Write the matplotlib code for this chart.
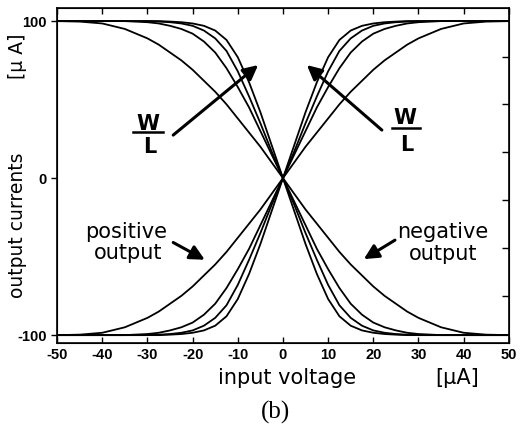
import numpy as np
import matplotlib
matplotlib.use('Agg')
import matplotlib.pyplot as plt

# input voltage grid and read-off output currents (four W/L values)
x = [-50, -45, -40, -35, -30, -27.5, -25, -22.5, -20, -17.5, -15, -12.5, -10, -7.5, -5, -2.5, 0,
     2.5, 5, 7.5, 10, 12.5, 15, 17.5, 20, 22.5, 25, 27.5, 30, 35, 40, 45, 50]

pos_a = [-100, -99.7, -98.5, -95, -89, -85, -80, -75, -69, -62, -55, -47, -38, -29, -20, -10, 0,
         10, 20, 29, 38, 47, 55, 62, 69, 75, 80, 85, 89, 95, 98.5, 99.7, 100]
pos_b = [-100, -100, -100, -100, -99.3, -98.5, -97, -95, -92, -87, -80, -70, -58, -45, -30, -15, 0,
         15, 30, 45, 58, 70, 80, 87, 92, 95, 97, 98.5, 99.3, 100, 100, 100, 100]
pos_c = [-100, -100, -100, -100, -100, -99.7, -99.3, -98.5, -97, -94, -89, -81, -68, -52, -35, -17, 0,
         17, 35, 52, 68, 81, 89, 94, 97, 98.5, 99.3, 99.7, 100, 100, 100, 100, 100]
pos_d = [-100, -100, -100, -100, -100, -100, -99.7, -99.3, -98.5, -97, -94, -88, -77, -61, -42, -21, 0,
         21, 42, 61, 77, 88, 94, 97, 98.5, 99.3, 99.7, 100, 100, 100, 100, 100, 100]

neg_a = [100, 99.7, 98.5, 95, 89, 85, 80, 75, 69, 62, 55, 47, 38, 29, 20, 10, 0,
         -10, -20, -29, -38, -47, -55, -62, -69, -75, -80, -85, -89, -95, -98.5, -99.7, -100]
neg_b = [100, 100, 100, 100, 99.3, 98.5, 97, 95, 92, 87, 80, 70, 58, 45, 30, 15, 0,
         -15, -30, -45, -58, -70, -80, -87, -92, -95, -97, -98.5, -99.3, -100, -100, -100, -100]
neg_c = [100, 100, 100, 100, 100, 99.7, 99.3, 98.5, 97, 94, 89, 81, 68, 52, 35, 17, 0,
         -17, -35, -52, -68, -81, -89, -94, -97, -98.5, -99.3, -99.7, -100, -100, -100, -100, -100]
neg_d = [100, 100, 100, 100, 100, 100, 99.7, 99.3, 98.5, 97, 94, 88, 77, 61, 42, 21, 0,
         -21, -42, -61, -77, -88, -94, -97, -98.5, -99.3, -99.7, -100, -100, -100, -100, -100, -100]

x_ticks = [-50, -40, -30, -20, -10, 0, 10, 20, 30, 40, 50]
y_ticks = [-100, 0, 100]
right_ticks = [77, 47, 16.5, -14, -44.5, -75]

plt.rcParams['font.family'] = ['DejaVu Sans']

fig = plt.figure(figsize=(5.24, 4.25), dpi=100)
ax = fig.add_axes([0.109, 0.193, 0.862, 0.788])

for curve in [pos_a, pos_b, pos_c, pos_d, neg_a, neg_b, neg_c, neg_d]:
    ax.plot(x, curve, color='black', lw=1.3)

ax.set_xlim(-50, 50)
ax.set_ylim(-105, 108.3)
for s in ax.spines.values():
    s.set_linewidth(1.2)

tick_font = dict(family='Liberation Sans', fontweight='bold', fontsize=10.5)
ax.set_xticks(x_ticks)
ax.set_xticklabels([str(v) for v in x_ticks], **tick_font)
ax.set_yticks(y_ticks)
ax.set_yticklabels([str(v) for v in y_ticks], **tick_font)
ax.tick_params(axis='x', direction='in', top=True, length=4, width=1)
ax.tick_params(axis='y', direction='out', length=4, width=1)

ax2 = ax.twinx()
ax2.set_ylim(ax.get_ylim())
ax2.set_yticks(right_ticks)
ax2.set_yticklabels([])
ax2.tick_params(axis='y', direction='in', length=5, width=1)

# axis labels
fig.text(0.034, 0.471, 'output currents', rotation=90, ha='center', va='center', fontsize=13.5)
fig.text(0.034, 0.868, '[\u03bc A]', rotation=90, ha='center', va='center', fontsize=13.5)
fig.text(0.548, 0.111, 'input voltage', ha='center', va='center', fontsize=15)
fig.text(0.872, 0.111, '[\u03bcA]', ha='center', va='center', fontsize=15)
fig.text(0.525, 0.03, '(b)', ha='center', va='center', fontsize=18, family='Liberation Serif')

arrow = dict(arrowstyle='-|>', lw=2.2, color='black', mutation_scale=22, shrinkA=0, shrinkB=0)

# W/L markers
for wx, wy, ry, ly, x0, x1 in [(-29.9, 34.4, 29.3, 19.7, -33.2, -26.5),
                               (27.0, 38.2, 31.8, 21.0, 24.1, 30.3)]:
    ax.text(wx, wy, 'W', ha='center', va='center', fontsize=15, fontweight='bold')
    ax.plot([x0, x1], [ry, ry], color='black', lw=1.8)
    ax.text(wx + 0.3, ly, 'L', ha='center', va='center', fontsize=15, fontweight='bold')

ax.annotate('', xy=(-5.5, 72), xytext=(-24.3, 27.4), arrowprops=arrow)
ax.annotate('', xy=(5.3, 72), xytext=(21.9, 30.6), arrowprops=arrow)

ax.text(-34.7, -34.4, 'positive', ha='center', va='center', fontsize=15)
ax.text(-34.3, -47.8, 'output', ha='center', va='center', fontsize=15)
ax.annotate('', xy=(-17.3, -52), xytext=(-24.3, -41), arrowprops=arrow)
ax.text(35.4, -34.4, 'negative', ha='center', va='center', fontsize=15)
ax.text(35.4, -48.4, 'output', ha='center', va='center', fontsize=15)
ax.annotate('', xy=(17.9, -51.6), xytext=(24.8, -39.5), arrowprops=arrow)

fig.savefig('out.png', dpi=100)
